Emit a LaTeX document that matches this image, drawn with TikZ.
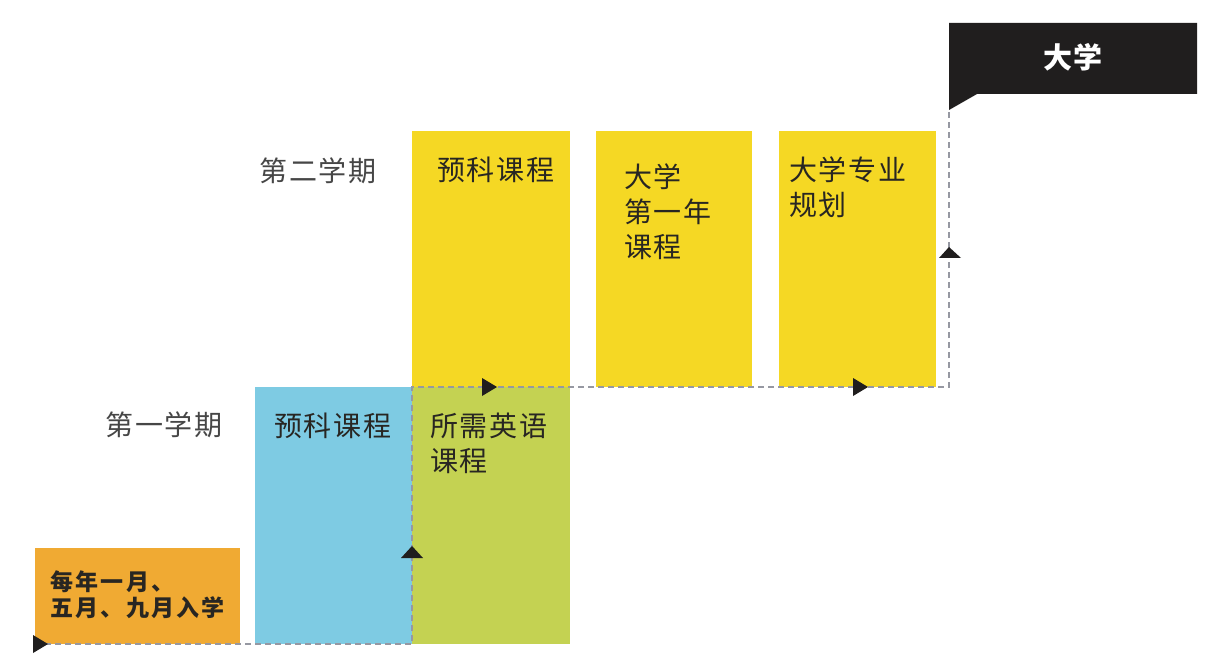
\documentclass[tikz,border=0pt]{standalone}
\usepackage{fontspec}
\newfontfamily\cjk[LetterSpace=6]{Noto Sans CJK SC}
\newfontfamily\cjksmall[LetterSpace=10]{Noto Sans CJK SC}
\definecolor{ylw}{RGB}{245,216,36}
\definecolor{blu}{RGB}{126,203,227}
\definecolor{grn}{RGB}{196,210,82}
\definecolor{org}{RGB}{240,170,51}
\definecolor{blk}{RGB}{32,30,30}
\definecolor{dash}{RGB}{150,152,162}
\definecolor{txt}{RGB}{40,38,34}
\definecolor{lbl}{RGB}{70,70,70}
\begin{document}
\begin{tikzpicture}[x=1pt,y=-1pt,
  box/.style={draw=none,inner sep=0pt,anchor=north west},
  boxtext/.style={inner sep=0pt,anchor=north west,align=left,text=txt,
    font=\cjk\fontsize{28}{35}\selectfont},
  termtext/.style={inner sep=0pt,text=lbl,font=\cjk\fontsize{28}{35}\selectfont},
  route/.style={draw=dash,line width=1.8pt,dash pattern=on 6pt off 4pt},
  tri/.style={fill=blk}]
\useasboundingbox (0,0) rectangle (1213,660);
\fill[white] (0,0) rectangle (1213,660);

% boxes
\node[box,fill=org,minimum width=205pt,minimum height=96pt] (start) at (35,548) {};
\node[box,fill=blu,minimum width=157pt,minimum height=257pt] (prepA) at (255,387) {};
\node[box,fill=grn,minimum width=158pt,minimum height=257pt] (eng) at (412,387) {};
\node[box,fill=ylw,minimum width=158pt,minimum height=256pt] (prepB) at (412,131) {};
\node[box,fill=ylw,minimum width=156pt,minimum height=256pt] (year1) at (596,131) {};
\node[box,fill=ylw,minimum width=157pt,minimum height=256pt] (major) at (779,131) {};

% flag
\fill[blk] (949,23) -- (1197,23) -- (1197,94) -- (977,94) -- (949,110) -- cycle;
\node[inner sep=0pt,text=white,font=\cjk\bfseries\fontsize{29}{35}\selectfont] (uni) at (1073,57) {大学};

% term labels
\node[termtext] (t2) at (318,171) {第二学期};
\node[termtext] (t1) at (164,425) {第一学期};

% box texts
\node[boxtext] (tb) at ([shift={(25,26)}]prepB.north west) {预科课程};
\node[boxtext] (ty) at ([shift={(28,33)}]year1.north west) {大学\\第一年\\课程};
\node[boxtext] (tm) at ([shift={(10,26)}]major.north west) {大学专业\\规划};
\node[boxtext] (ta) at ([shift={(19,26)}]prepA.north west) {预科课程};
\node[boxtext] (te) at ([shift={(18,26)}]eng.north west) {所需英语\\课程};
\node[inner sep=0pt,anchor=north west,align=left,text=txt,
  font=\cjksmall\bfseries\fontsize{23}{26}\selectfont] (ts) at ([shift={(15,22)}]start.north west) {每年一月、\\五月、九月入学};

% route
\coordinate (p0) at (35,644);
\coordinate (p1) at (412,644);
\coordinate (p2) at (412,387);
\coordinate (p3) at (949,387);
\coordinate (p4) at (949,110);
\draw[route] (p0) -- (p1) -- (p2) -- (p3) -- (p4);

% arrowheads
\fill[tri] ([shift={(-2,-9)}]p0) -- ([shift={(13,0)}]p0) -- ([shift={(-2,9)}]p0) -- cycle;
\fill[tri] (401,558) -- (412,546) -- (423,558) -- cycle;
\fill[tri] (482,378) -- (497,387) -- (482,396) -- cycle;
\fill[tri] (853,378) -- (868,387) -- (853,396) -- cycle;
\fill[tri] (939,258) -- (949,247) -- (961,258) -- cycle;
\end{tikzpicture}
\end{document}
